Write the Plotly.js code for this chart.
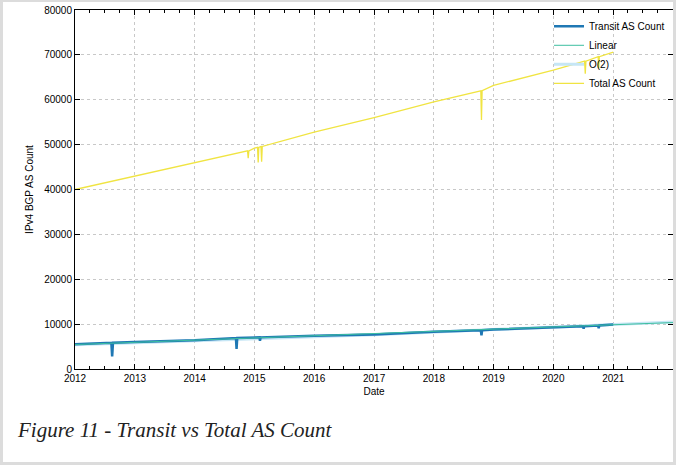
<!DOCTYPE html>
<html><head><script src="https://cdn.plot.ly/plotly-3.0.1.min.js"></script>
<style>body{margin:0}#w{width:676px;height:465px;box-sizing:border-box;border:3px solid #dcdcdc;border-top-width:2px;position:relative;background:#fff}#c{width:670px;height:460px}</style>
</head><body><div id="w"><div id="c"></div></div>
<script>
const transitDates=['2012-01-01','2012-08-10','2012-08-15','2012-08-20','2013-01-01','2014-01-01','2014-09-10','2014-09-14','2014-09-18','2015-01-01','2015-02-01','2015-02-04','2015-02-08','2016-01-01','2017-01-01','2018-01-01','2018-10-15','2018-10-19','2018-10-23','2019-01-01','2020-01-01','2020-07-01','2020-07-04','2020-07-08','2020-10-01','2020-10-04','2020-10-08','2021-01-01'];
const transitVals=[5500,5850,2800,5850,6000,6400,6900,4500,6900,7000,7050,6300,7050,7400,7700,8300,8650,7500,8650,8800,9300,9500,9000,9500,9700,9100,9700,9900];
const totalDates=['2012-01-01','2013-01-01','2014-01-01','2014-11-20','2014-11-24','2014-11-28','2015-01-01','2015-01-20','2015-01-24','2015-01-28','2015-02-10','2015-02-14','2015-02-18','2016-01-01','2017-01-01','2018-01-01','2018-10-15','2018-10-19','2018-10-23','2019-01-01','2020-01-01','2020-07-10','2020-07-14','2020-07-18','2020-10-01','2020-10-04','2020-10-08','2021-01-01'];
const totalVals=[40000,43000,46000,48600,47000,48600,49200,49400,46000,49400,49600,46200,49600,52800,56000,59500,62000,55500,62000,63200,66600,68600,65800,68600,69600,67000,69600,70600];
const fitDates=['2012-01-01','2022-01-01'];
const linearVals=[5450,10350];
const o2Dates=['2012-01-01','2017-01-01','2022-01-01'];
const o2Vals=[5400,7650,10500];
const traces=[
{x:o2Dates,y:o2Vals,name:'O(2)',mode:'lines',line:{color:'#c6e6f5',width:3},legendrank:3},
{x:transitDates,y:transitVals,name:'Transit AS Count',mode:'lines',line:{color:'#1f78b4',width:2.5},legendrank:1},
{x:fitDates,y:linearVals,name:'Linear',mode:'lines',line:{color:'#3dbfa0',width:1},legendrank:2},
{x:totalDates,y:totalVals,name:'Total AS Count',mode:'lines',line:{color:'#f0e442',width:1.3},legendrank:4}
];
const ax={showline:true,mirror:'ticks',linecolor:'#000',linewidth:1,ticks:'inside',ticklen:5,tickcolor:'#000',gridcolor:'#c8c8c8',griddash:'dot',zeroline:false,tickfont:{size:10,color:'#000'}};
Plotly.newPlot('c',traces,{width:670,height:460,margin:{l:72,r:0,t:8,b:93},
font:{family:'Liberation Sans, Arial',size:10,color:'#000'},
paper_bgcolor:'#fff',plot_bgcolor:'#fff',
xaxis:Object.assign({},ax,{type:'date',range:['2012-01-01','2022-01-01'],tickvals:['2012-01-01','2013-01-01','2014-01-01','2015-01-01','2016-01-01','2017-01-01','2018-01-01','2019-01-01','2020-01-01','2021-01-01','2021-12-31'],ticktext:['2012','2013','2014','2015','2016','2017','2018','2019','2020','2021','2022'],minor:{dtick:'M3',ticks:'inside',ticklen:3,tickcolor:'#000'},title:{text:'Date',font:{size:10},standoff:4}}),
yaxis:Object.assign({},ax,{range:[0,80000],dtick:10000,tickformat:'d',title:{text:'IPv4 BGP AS Count',font:{size:10},standoff:8}}),
legend:{x:0.995,y:0.995,xanchor:'right',yanchor:'top',bgcolor:'rgba(255,255,255,0)',font:{size:10},tracegroupgap:0,itemwidth:30,traceorder:'normal'},
showlegend:true,
annotations:[{xref:'paper',yref:'paper',x:-0.1,y:-0.13,xanchor:'left',yanchor:'top',showarrow:false,text:'<i>Figure 11 - Transit vs Total AS Count</i>',font:{family:'Liberation Serif, serif',size:21,color:'#222'}}]
},{displayModeBar:false});
</script></body></html>
